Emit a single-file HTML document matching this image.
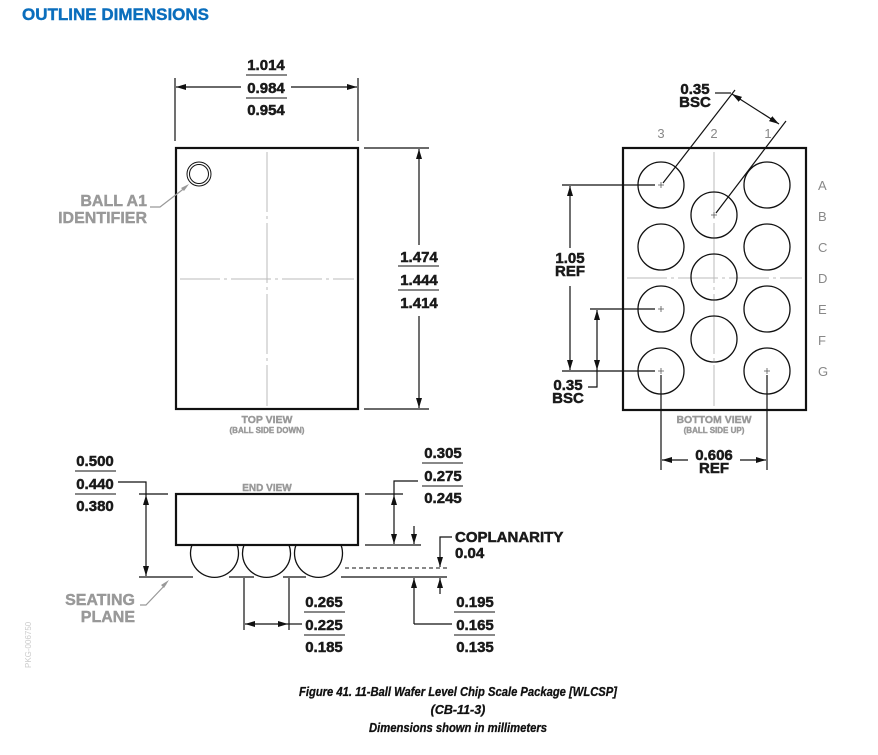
<!DOCTYPE html>
<html><head><meta charset="utf-8"><style>
html,body{margin:0;padding:0;background:#fff;}
svg{display:block;font-family:"Liberation Sans",Arial,sans-serif;}
.d{font-weight:bold;font-size:15px;fill:#1a1a1a;stroke:#1a1a1a;stroke-width:0.5;}
.g{font-weight:bold;fill:#999;stroke:#999;stroke-width:0.4;}
.l{stroke:#111;stroke-width:1.2;fill:none;}
.t{stroke:#111;stroke-width:2.2;fill:none;}
.c{stroke:#bbb;stroke-width:1;fill:none;}
</style></head><body>
<svg width="878" height="755" viewBox="0 0 878 755">
<defs>
<marker id="a" viewBox="0 0 10 6" refX="10" refY="3" markerWidth="10" markerHeight="6" orient="auto-start-reverse" markerUnits="userSpaceOnUse"><path d="M0,0L10,3L0,6z" fill="#111"/></marker>
</defs>
<text x="22" y="20" font-weight="bold" font-size="17" fill="#0a6ebd" stroke="#0a6ebd" stroke-width="0.4">OUTLINE DIMENSIONS</text>

<!-- TOP VIEW -->
<rect x="176" y="148" width="182" height="261" class="t"/>
<line x1="267" y1="152" x2="267" y2="406" class="c" stroke-dasharray="60,4,3,4"/>
<line x1="180" y1="279" x2="354" y2="279" class="c" stroke-dasharray="40,4,3,4"/>
<circle cx="199" cy="174" r="12" fill="none" stroke="#111" stroke-width="1"/>
<circle cx="199" cy="174" r="9.5" fill="none" stroke="#111" stroke-width="1"/>
<line x1="175" y1="78" x2="175" y2="141" class="l"/>
<line x1="358" y1="78" x2="358" y2="141" class="l"/>
<line x1="176" y1="87" x2="241" y2="87" class="l" marker-start="url(#a)"/>
<line x1="291" y1="87" x2="357" y2="87" class="l" marker-end="url(#a)"/>
<text x="266" y="70" class="d" text-anchor="middle">1.014</text>
<line x1="246" y1="75" x2="287" y2="75" stroke="#111"/>
<text x="266" y="93" class="d" text-anchor="middle">0.984</text>
<line x1="246" y1="98" x2="287" y2="98" stroke="#111"/>
<text x="266" y="115" class="d" text-anchor="middle">0.954</text>
<line x1="364" y1="148" x2="429" y2="148" class="l"/>
<line x1="364" y1="409" x2="429" y2="409" class="l"/>
<line x1="419" y1="149" x2="419" y2="245" class="l" marker-start="url(#a)"/>
<line x1="419" y1="316" x2="419" y2="408" class="l" marker-end="url(#a)"/>
<text x="419" y="262" class="d" text-anchor="middle">1.474</text>
<line x1="398" y1="266" x2="439" y2="266" stroke="#111"/>
<text x="419" y="285" class="d" text-anchor="middle">1.444</text>
<line x1="398" y1="290" x2="439" y2="290" stroke="#111"/>
<text x="419" y="308" class="d" text-anchor="middle">1.414</text>
<text x="147" y="206" class="g" font-size="16" text-anchor="end">BALL A1</text>
<text x="147" y="223" class="g" font-size="16" text-anchor="end">IDENTIFIER</text>
<polyline points="150,207 160,207 186,187" fill="none" stroke="#999" stroke-width="1.2"/>
<path d="M189,184 L181,188 L184,191z" fill="#999"/>
<text x="267" y="423" class="g" font-size="10.5" text-anchor="middle" stroke-width="0.2">TOP VIEW</text>
<text x="267" y="433" class="g" font-size="8" text-anchor="middle" stroke-width="0.1">(BALL SIDE DOWN)</text>

<!-- BOTTOM VIEW -->
<rect x="623" y="148" width="183" height="262" class="t"/>
<line x1="714" y1="152" x2="714" y2="406" class="c" stroke-dasharray="60,4,3,4"/>
<line x1="627" y1="278" x2="802" y2="278" class="c" stroke-dasharray="40,4,3,4"/>
<g fill="none" stroke="#111" stroke-width="1.3">
<circle cx="661" cy="185" r="23"/><circle cx="767" cy="185" r="23"/>
<circle cx="714" cy="215" r="23"/>
<circle cx="661" cy="247" r="23"/><circle cx="767" cy="247" r="23"/>
<circle cx="714" cy="277" r="23"/>
<circle cx="661" cy="309" r="23"/><circle cx="767" cy="309" r="23"/>
<circle cx="714" cy="339" r="23"/>
<circle cx="661" cy="371" r="23"/><circle cx="767" cy="371" r="23"/>
</g>
<g stroke="#555" stroke-width="0.8">
<path d="M658,185h6M661,182v6M711,215h6M714,212v6M658,309h6M661,306v6M658,371h6M661,368v6M764,371h6M767,368v6"/>
</g>
<g font-size="13" fill="#888">
<text x="661" y="138" text-anchor="middle">3</text>
<text x="714" y="138" text-anchor="middle">2</text>
<text x="768" y="138" text-anchor="middle">1</text>
<text x="818" y="190">A</text><text x="818" y="221">B</text>
<text x="818" y="252">C</text><text x="818" y="283">D</text>
<text x="818" y="314">E</text><text x="818" y="345">F</text>
<text x="818" y="376">G</text>
</g>
<line x1="663" y1="183" x2="735" y2="90" class="l"/>
<line x1="716" y1="213" x2="786" y2="121" class="l"/>
<line x1="732" y1="94" x2="779" y2="124" class="l" marker-start="url(#a)" marker-end="url(#a)"/>
<line x1="715" y1="93" x2="731" y2="93" class="l"/>
<text x="695" y="94" class="d" text-anchor="middle">0.35</text>
<text x="695" y="107" class="d" text-anchor="middle">BSC</text>
<line x1="562" y1="185" x2="655" y2="185" class="l"/>
<line x1="562" y1="371" x2="655" y2="371" class="l"/>
<line x1="590" y1="309" x2="655" y2="309" class="l"/>
<line x1="570" y1="186" x2="570" y2="248" class="l" marker-start="url(#a)"/>
<line x1="570" y1="286" x2="570" y2="370" class="l" marker-end="url(#a)"/>
<text x="570" y="263" class="d" text-anchor="middle">1.05</text>
<text x="570" y="276" class="d" text-anchor="middle">REF</text>
<line x1="597" y1="310" x2="597" y2="370" class="l" marker-start="url(#a)" marker-end="url(#a)"/>
<polyline points="597,370 597,387 588,387" class="l"/>
<text x="568" y="390" class="d" text-anchor="middle">0.35</text>
<text x="568" y="403" class="d" text-anchor="middle">BSC</text>
<line x1="661" y1="375" x2="661" y2="470" class="l"/>
<line x1="767" y1="375" x2="767" y2="470" class="l"/>
<line x1="662" y1="460" x2="688" y2="460" class="l" marker-start="url(#a)"/>
<line x1="740" y1="460" x2="766" y2="460" class="l" marker-end="url(#a)"/>
<text x="714" y="460" class="d" text-anchor="middle">0.606</text>
<text x="714" y="473" class="d" text-anchor="middle">REF</text>
<text x="714" y="423" class="g" font-size="10.5" text-anchor="middle" stroke-width="0.2">BOTTOM VIEW</text>
<text x="714" y="433" class="g" font-size="8" text-anchor="middle" stroke-width="0.1">(BALL SIDE UP)</text>

<!-- END VIEW -->
<text x="267" y="491" class="g" font-size="10" text-anchor="middle" stroke-width="0.2">END VIEW</text>
<rect x="176" y="494" width="182" height="51" class="t"/>
<g fill="none" stroke="#111" stroke-width="1.3">
<path d="M192,545 A24,24 0 1 0 237,545"/>
<path d="M244,545 A24,24 0 1 0 289,545"/>
<path d="M296,545 A24,24 0 1 0 341,545"/>
</g>
<line x1="139" y1="494" x2="168" y2="494" class="l"/>
<line x1="139" y1="577" x2="193" y2="577" class="l"/>
<line x1="229" y1="577" x2="254" y2="577" class="l"/>
<line x1="283" y1="577" x2="306" y2="577" class="l"/>
<line x1="341" y1="577" x2="447" y2="577" class="l"/>
<line x1="345" y1="568" x2="447" y2="568" stroke="#111" stroke-width="1" stroke-dasharray="4,3"/>
<line x1="146" y1="495" x2="146" y2="576" class="l" marker-start="url(#a)" marker-end="url(#a)"/>
<polyline points="118,482 146,482 146,495" class="l"/>
<text x="95" y="466" class="d" text-anchor="middle">0.500</text>
<line x1="75" y1="471" x2="116" y2="471" stroke="#111"/>
<text x="95" y="489" class="d" text-anchor="middle">0.440</text>
<line x1="75" y1="494" x2="116" y2="494" stroke="#111"/>
<text x="95" y="511" class="d" text-anchor="middle">0.380</text>
<text x="135" y="605" class="g" font-size="16" text-anchor="end">SEATING</text>
<text x="135" y="622" class="g" font-size="16" text-anchor="end">PLANE</text>
<polyline points="140,605 146,605 166,584" fill="none" stroke="#999" stroke-width="1.2"/>
<path d="M169,580 L161,585 L164,588z" fill="#999"/>
<line x1="365" y1="494" x2="403" y2="494" class="l"/>
<line x1="365" y1="545" x2="421" y2="545" class="l"/>
<line x1="394" y1="495" x2="394" y2="544" class="l" marker-start="url(#a)" marker-end="url(#a)"/>
<polyline points="394,495 394,481 418,481" class="l"/>
<line x1="414" y1="526" x2="414" y2="544" class="l" marker-end="url(#a)"/>
<text x="443" y="458" class="d" text-anchor="middle">0.305</text>
<line x1="422" y1="463" x2="463" y2="463" stroke="#111"/>
<text x="443" y="481" class="d" text-anchor="middle">0.275</text>
<line x1="422" y1="486" x2="463" y2="486" stroke="#111"/>
<text x="443" y="503" class="d" text-anchor="middle">0.245</text>
<line x1="440" y1="541" x2="440" y2="567" class="l" marker-end="url(#a)"/>
<polyline points="440,541 440,537 452,537" class="l"/>
<line x1="440" y1="578" x2="440" y2="594" class="l" marker-start="url(#a)"/>
<text x="455" y="542" class="d" font-size="15.5">COPLANARITY</text>
<text x="455" y="558" class="d">0.04</text>
<line x1="244" y1="578" x2="244" y2="630" class="l"/>
<line x1="289" y1="578" x2="289" y2="630" class="l"/>
<line x1="245" y1="624" x2="288" y2="624" class="l" marker-start="url(#a)" marker-end="url(#a)"/>
<line x1="288" y1="624" x2="302" y2="624" class="l"/>
<text x="324" y="607" class="d" text-anchor="middle">0.265</text>
<line x1="304" y1="612" x2="345" y2="612" stroke="#111"/>
<text x="324" y="630" class="d" text-anchor="middle">0.225</text>
<line x1="304" y1="635" x2="345" y2="635" stroke="#111"/>
<text x="324" y="652" class="d" text-anchor="middle">0.185</text>
<line x1="414" y1="578" x2="414" y2="624" class="l" marker-start="url(#a)"/>
<line x1="414" y1="624" x2="452" y2="624" class="l"/>
<text x="475" y="607" class="d" text-anchor="middle">0.195</text>
<line x1="454" y1="612" x2="495" y2="612" stroke="#111"/>
<text x="475" y="630" class="d" text-anchor="middle">0.165</text>
<line x1="454" y1="635" x2="495" y2="635" stroke="#111"/>
<text x="475" y="652" class="d" text-anchor="middle">0.135</text>
<text transform="translate(31,668) rotate(-90)" font-size="8" fill="#ccc">PKG-006750</text>

<g font-weight="bold" font-style="italic" font-size="12.5" fill="#111" stroke="#111" stroke-width="0.3" text-anchor="middle">
<text x="458" y="696" textLength="318" lengthAdjust="spacingAndGlyphs">Figure 41. 11-Ball Wafer Level Chip Scale Package [WLCSP]</text>
<text x="458" y="714">(CB-11-3)</text>
<text x="458" y="732" textLength="178" lengthAdjust="spacingAndGlyphs">Dimensions shown in millimeters</text>
</g>
</svg>
</body></html>
